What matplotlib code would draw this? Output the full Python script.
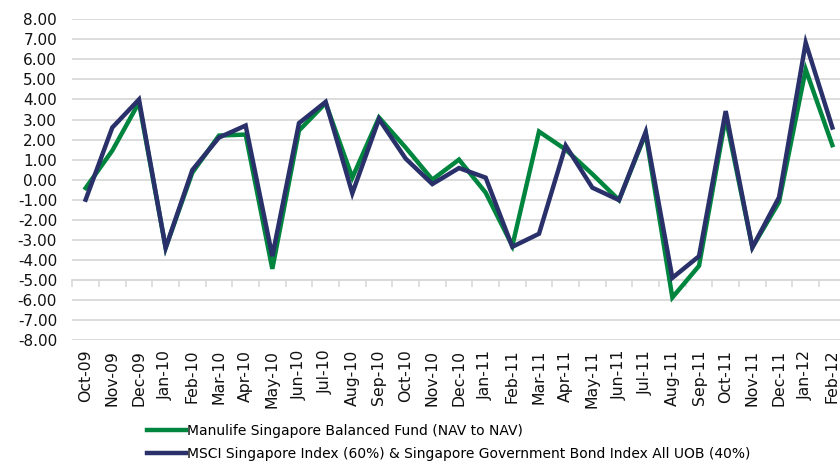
import matplotlib
matplotlib.use("Agg")
import matplotlib.pyplot as plt
from matplotlib.lines import Line2D
import numpy as np

months = ["Oct-09", "Nov-09", "Dec-09", "Jan-10", "Feb-10", "Mar-10", "Apr-10",
          "May-10", "Jun-10", "Jul-10", "Aug-10", "Sep-10", "Oct-10", "Nov-10",
          "Dec-10", "Jan-11", "Feb-11", "Mar-11", "Apr-11", "May-11", "Jun-11",
          "Jul-11", "Aug-11", "Sep-11", "Oct-11", "Nov-11", "Dec-11", "Jan-12",
          "Feb-12"]
fund = [-0.42, 1.45, 3.85, -3.40, 0.35, 2.20, 2.25, -4.45, 2.45, 3.82, 0.10,
        3.10, 1.60, 0.00, 1.00, -0.65, -3.30, 2.40, 1.50, 0.28, -1.02, 2.30,
        -5.88, -4.30, 3.10, -3.38, -1.12, 5.50, 1.72]
bench = [-1.00, 2.60, 4.00, -3.40, 0.48, 2.10, 2.70, -3.82, 2.82, 3.88, -0.68,
         3.02, 1.05, -0.22, 0.58, 0.10, -3.35, -2.70, 1.70, -0.40, -1.02, 2.38,
         -4.90, -3.82, 3.42, -3.38, -0.88, 6.83, 2.60]
yticks = [8, 7, 6, 5, 4, 3, 2, 1, 0, -1, -2, -3, -4, -5, -6, -7, -8]
labels = ["Manulife Singapore Balanced Fund (NAV to NAV)",
          "MSCI Singapore Index (60%) & Singapore Government Bond Index All UOB (40%)"]

GREEN = "#00853F"
NAVY = "#29306A"
GRID = "#D9D9D9"

W, H = 840, 461
fig = plt.figure(figsize=(W / 100, H / 100), dpi=100)
left = 72.3 / W
right = 845.7 / W
top = 1 - 19.3 / H
bottom = 1 - 340.0 / H
ax = fig.add_axes([left, bottom, right - left, top - bottom])

x = np.arange(len(months))
ax.plot(x, fund, color=GREEN, lw=3.2, solid_joinstyle="miter", zorder=3)
ax.plot(x, bench, color=NAVY, lw=3.2, solid_joinstyle="miter", zorder=4)

ax.set_xlim(-0.5, len(months) - 0.5)
ax.set_ylim(-8, 8)
ax.set_yticks(yticks)
ax.set_yticklabels([f"{v:.2f}" for v in yticks])
ax.yaxis.grid(True, color=GRID, lw=1.3)
ax.set_axisbelow(True)
for s in ax.spines.values():
    s.set_visible(False)
ax.tick_params(axis="y", length=0, pad=11, labelsize=11, labelcolor="#111111")
ax.set_xticks(x)
ax.set_xticklabels(months, rotation=90)
ax.tick_params(axis="x", length=0, pad=7, labelsize=11.3, labelcolor="#111111")

# category axis crossing at -5
sec = ax.secondary_xaxis(3 / 16)
sec.set_xticks(np.arange(len(months) + 1) - 0.5)
sec.set_xticklabels([])
sec.tick_params(axis="x", direction="out", length=5, width=1.2, color=GRID)
sec.spines["bottom"].set_color(GRID)
sec.spines["bottom"].set_linewidth(1.3)
sec.spines["top"].set_visible(False)

handles = [Line2D([], [], color=GREEN, lw=3.2), Line2D([], [], color=NAVY, lw=3.2)]
fig.legend(handles, labels, loc="upper left",
           bbox_to_anchor=(147 / W, 1 - 424 / H), frameon=False,
           prop={"family": "DejaVu Sans", "size": 10},
           handlelength=2.8, handletextpad=0.05, labelspacing=0.62, borderpad=0,
           borderaxespad=0)

fig.savefig("out.png", dpi=100)
